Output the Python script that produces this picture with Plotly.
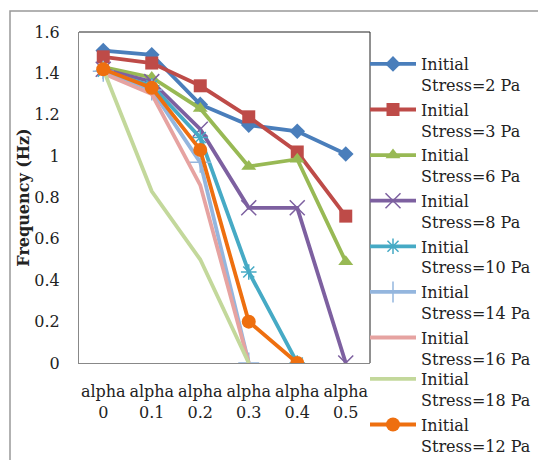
import plotly.graph_objects as go

categories = ["alpha<br>0", "alpha<br>0.1", "alpha<br>0.2", "alpha<br>0.3", "alpha<br>0.4", "alpha<br>0.5"]
names = ["Initial<br>Stress=2 Pa", "Initial<br>Stress=3 Pa", "Initial<br>Stress=6 Pa",
         "Initial<br>Stress=8 Pa", "Initial<br>Stress=10 Pa", "Initial<br>Stress=14 Pa",
         "Initial<br>Stress=16 Pa", "Initial<br>Stress=18 Pa", "Initial<br>Stress=12 Pa"]
s2 = [1.51, 1.49, 1.25, 1.15, 1.12, 1.01]
s3 = [1.48, 1.45, 1.34, 1.19, 1.02, 0.71]
s6 = [1.43, 1.38, 1.23, 0.95, 0.985, 0.49]
s8 = [1.42, 1.36, 1.13, 0.75, 0.75, 0.0]
s10 = [1.41, 1.34, 1.09, 0.44, 0.0]
s14 = [1.41, 1.32, 0.97, 0.0]
s16 = [1.40, 1.30, 0.86, 0.0]
s18 = [1.42, 0.83, 0.50, 0.0]
s12 = [1.42, 1.33, 1.03, 0.20, 0.0]

series = [s2, s3, s6, s8, s10, s14, s16, s18, s12]
colors = ["#4A7EBB", "#BE4B48", "#98B954", "#7D60A0", "#46AAC5", "#94B6DE", "#E6A3A1", "#C3D89B", "#EE6F0F"]
symbols = ["diamond", "square", "triangle-up", "x-thin-open", "asterisk-open", "cross-thin-open", None, None, "circle"]
sizes = [12, 13, 13, 15, 13, 15, 0, 0, 14]

FONT = "DejaVu Serif"
# page body has an 8px margin; work in reference pixels and shift by it
OFF = 8
W, H = 546 - OFF, 460 - OFF
ml, mt = 79 - OFF, 32 - OFF
pw, ph = 291, 331
mr, mb = W - ml - pw, H - mt - ph

def px(xr):
    return (xr - OFF - ml) / pw

def py(yr):
    return (mt + ph - (yr - OFF)) / ph

fig = go.Figure()
for i, (nm, ys) in enumerate(zip(names, series)):
    if symbols[i] is None:
        mode = "lines"
        marker = None
    else:
        mode = "lines+markers"
        if symbols[i].endswith("open"):
            marker = dict(symbol=symbols[i], size=sizes[i], color=colors[i], line=dict(width=1.5, color=colors[i]))
        else:
            marker = dict(symbol=symbols[i], size=sizes[i], color=colors[i])
    fig.add_trace(go.Scatter(
        x=categories[:len(ys)], y=ys, name=nm, mode=mode,
        line=dict(color=colors[i], width=3.8),
        marker=marker, legendgroup=str(i),
        legend="legend" if i < 7 else "legend2",
    ))

leg_common = dict(xanchor="left", yanchor="top", font=dict(family=FONT, size=16, color="#222"),
                  valign="top", tracegroupgap=1, bgcolor="rgba(0,0,0,0)", itemwidth=46)
fig.update_layout(
    width=W, height=H,
    margin=dict(l=ml, r=mr, t=mt, b=mb, autoexpand=False),
    paper_bgcolor="white", plot_bgcolor="white",
    font=dict(family=FONT, size=16, color="#222"),
    showlegend=True,
    legend=dict(x=px(365), y=py(47), **leg_common),
    legend2=dict(x=px(365), y=py(47 + 7 * 45), **leg_common),
    xaxis=dict(type="category", range=[-0.5, 5.5], showgrid=False, zeroline=False,
               showline=True, linecolor="#888", linewidth=1, ticks="",
               ticklabelstandoff=14, tickfont=dict(family=FONT, size=16, color="#222")),
    yaxis=dict(range=[0, 1.6], dtick=0.2, tick0=0, showgrid=False, zeroline=False,
               showline=True, linecolor="#888", linewidth=1, ticks="",
               ticklabelstandoff=15, tickfont=dict(family=FONT, size=16, color="#222"),
               title=dict(text="<b>Frequency (Hz)</b>", font=dict(family=FONT, size=16, color="#222"),
                          standoff=0)),
    shapes=[
        dict(type="line", xref="paper", yref="paper", x0=0, x1=1, y0=1, y1=1, line=dict(color="#222", width=1)),
        dict(type="line", xref="paper", yref="paper", x0=1, x1=1, y0=0, y1=1, line=dict(color="#222", width=1)),
        dict(type="rect", xref="paper", yref="paper", x0=px(10), x1=px(700), y0=py(600), y1=py(11),
             line=dict(color="#999", width=1.5), fillcolor="rgba(0,0,0,0)", layer="below"),
    ],
)

fig.write_html("out.html")
